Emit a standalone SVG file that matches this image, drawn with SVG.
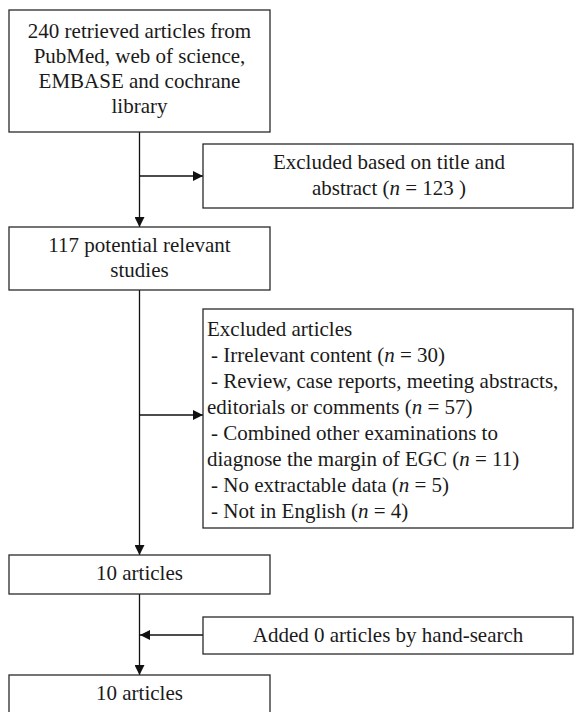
<svg xmlns="http://www.w3.org/2000/svg" width="575" height="712" viewBox="0 0 575 712">
<style>
.box{fill:#fff;stroke:#2a2a2a;stroke-width:1.3}
.t{font-family:"Liberation Serif","Times New Roman",serif;font-size:21px;fill:#1a1a1a}
.c{text-anchor:middle}
.ln{stroke:#111;stroke-width:1.3;fill:none}
</style>
<defs>
<marker id="ah" viewBox="0 0 10 10" refX="10" refY="5" markerWidth="10" markerHeight="10" markerUnits="userSpaceOnUse" orient="auto">
<path d="M0,0 L10,5 L0,10 Z" fill="#111"/>
</marker>
</defs>
<g id="connectors">
<line class="ln" x1="139.5" y1="132" x2="139.5" y2="227" marker-end="url(#ah)"/>
<line class="ln" x1="139.5" y1="176" x2="203" y2="176" marker-end="url(#ah)"/>
<line class="ln" x1="139.5" y1="290" x2="139.5" y2="555" marker-end="url(#ah)"/>
<line class="ln" x1="139.5" y1="415" x2="203" y2="415" marker-end="url(#ah)"/>
<line class="ln" x1="139.5" y1="594" x2="139.5" y2="675" marker-end="url(#ah)"/>
<line class="ln" x1="203" y1="635" x2="140" y2="635" marker-end="url(#ah)"/>
</g>
<g id="n1">
<rect class="box" x="9" y="10" width="261" height="122"/>
<text class="t c" x="139.5" y="38">240 retrieved articles from</text>
<text class="t c" x="139.5" y="63">PubMed, web of science,</text>
<text class="t c" x="139.5" y="88">EMBASE and cochrane</text>
<text class="t c" x="139.5" y="113">library</text>
</g>
<g id="n2">
<rect class="box" x="203" y="144" width="370" height="64"/>
<text class="t c" x="389" y="169">Excluded based on title and</text>
<text class="t c" x="389" y="195">abstract (<tspan font-style="italic">n</tspan> = 123 )</text>
</g>
<g id="n3">
<rect class="box" x="9" y="227" width="261" height="63"/>
<text class="t c" x="139.5" y="252">117 potential relevant</text>
<text class="t c" x="139.5" y="277">studies</text>
</g>
<g id="n4">
<rect class="box" x="203" y="309" width="370" height="219"/>
<text class="t" x="207" y="335.5">Excluded articles</text>
<text class="t" x="211" y="361.5">- Irrelevant content (<tspan font-style="italic">n</tspan> = 30)</text>
<text class="t" x="211" y="387.5">- Review, case reports, meeting abstracts,</text>
<text class="t" x="207" y="413.5">editorials or comments (<tspan font-style="italic">n</tspan> = 57)</text>
<text class="t" x="211" y="439.5">- Combined other examinations to</text>
<text class="t" x="207" y="465.5">diagnose the margin of EGC (<tspan font-style="italic">n</tspan> = 11)</text>
<text class="t" x="211" y="491.5">- No extractable data (<tspan font-style="italic">n</tspan> = 5)</text>
<text class="t" x="211" y="517.5">- Not in English (<tspan font-style="italic">n</tspan> = 4)</text>
</g>
<g id="n5">
<rect class="box" x="9" y="555" width="261" height="39"/>
<text class="t c" x="139.5" y="580">10 articles</text>
</g>
<g id="n6">
<rect class="box" x="203" y="617" width="370" height="37"/>
<text class="t c" x="388" y="642">Added 0 articles by hand-search</text>
</g>
<g id="n7">
<rect class="box" x="9" y="675" width="261" height="45"/>
<text class="t c" x="139.5" y="700">10 articles</text>
</g>
</svg>
